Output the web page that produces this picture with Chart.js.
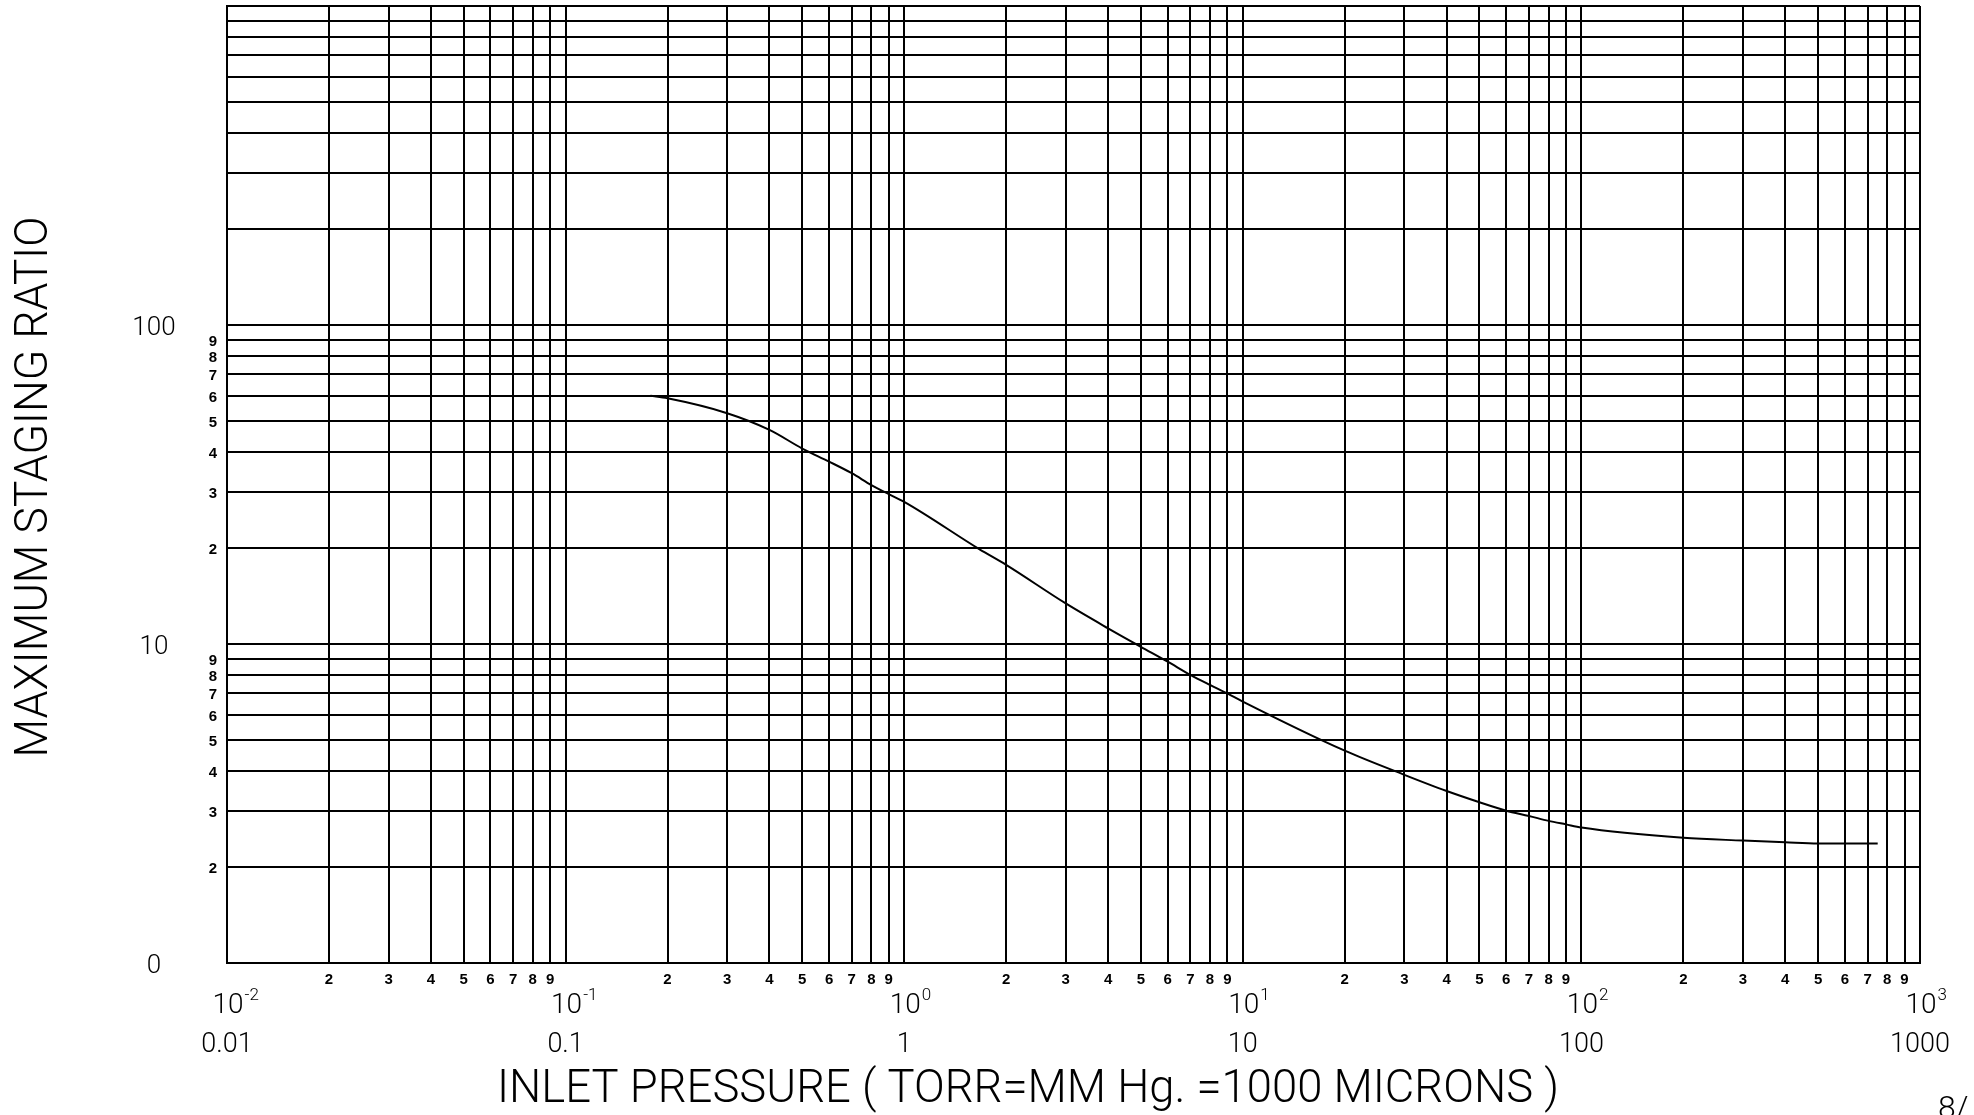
<!DOCTYPE html>
<html>
<head>
<meta charset="utf-8">
<script src="https://cdn.jsdelivr.net/npm/chart.js@4.4.0/dist/chart.umd.min.js"></script>
<style>
    html, body { margin: 0; padding: 0; background: #fff; }
    #chartBox { width: 1974px; height: 1115px; }
</style>
</head>
<body>
<div id="chartBox"><canvas id="stagingChart"></canvas></div>
<script>
// inlet pressure (torr) and the staging ratio
var pressure = [0.178, 0.2, 0.3, 0.4, 0.5, 0.6, 0.7, 0.8, 0.9, 1, 1.67, 2, 3, 4, 5, 6, 7, 8, 9, 10, 20, 30, 40, 50, 60, 70, 80, 90, 100, 200, 300, 400, 500, 700, 750];
var stagingRatio = [60, 58.9, 52.9, 46.9, 41.0, 37.3, 34.3, 31.5, 29.5, 27.9, 19.8, 17.7, 13.4, 11.2, 9.8, 8.8, 8.0, 7.44, 7.0, 6.6, 4.63, 3.89, 3.46, 3.19, 3.0, 2.89, 2.79, 2.72, 2.66, 2.47, 2.42, 2.39, 2.37, 2.37, 2.37];

// axis decades and labels
var xDecades = [0.01, 0.1, 1, 10, 100, 1000];
var xExponents = ["-2", "-1", "0", "1", "2", "3"];
var xPlainLabels = ["0.01", "0.1", "1", "10", "100", "1000"];
var yDecades = [1, 10, 100, 1000];
var yMajorLabels = ["0", "10", "100"];
var minorDigits = ["2", "3", "4", "5", "6", "7", "8", "9"];
var yLabelledDecades = 2;

var xTitle = "INLET PRESSURE ( TORR=MM Hg. =1000 MICRONS )";
var yTitle = "MAXIMUM STAGING RATIO";
var cornerNote = "8/";

var thinFont = "'Roboto', 'DejaVu Sans', sans-serif";
var digitFont = "'Liberation Sans', 'DejaVu Sans', sans-serif";

function gridValues(decades)
{
    var values = [];
    for (var i = 0; i < decades.length - 1; i++)
    {
        values.push(decades[i]);
        minorDigits.forEach(function (d) {
            values.push(decades[i] * Number(d));
        });
    }
    values.push(decades[decades.length - 1]);
    return values;
}

function putText(ctx, text, x, y, font, align, width)
{
    ctx.save();
    ctx.font = font;
    ctx.fillStyle = "#000";
    ctx.textBaseline = "alphabetic";
    ctx.textAlign = align;
    var sx = width ? width / ctx.measureText(text).width : 1;
    ctx.translate(x, y);
    ctx.scale(sx, 1);
    ctx.fillText(text, 0, 0);
    ctx.restore();
}

var labelPlugin = {
    id: "paperLabels",
    afterDraw: function (chart) {
        var ctx = chart.ctx;
        var xs = chart.scales.x;
        var ys = chart.scales.y;

        // x axis: 2..9 under every decade, then 10^n and plain value
        for (var i = 0; i < xDecades.length; i++)
        {
            var px = xs.getPixelForValue(xDecades[i]);
            if (i < xDecades.length - 1)
            {
                minorDigits.forEach(function (d) {
                    var mx = xs.getPixelForValue(xDecades[i] * Number(d));
                    putText(ctx, d, mx, 984, "bold 15px " + digitFont, "center");
                });
            }
            putText(ctx, "10", px + 1, 1013, "300 28px " + thinFont, "center");
            ctx.font = "300 28px " + thinFont;
            var baseW = ctx.measureText("10").width;
            putText(ctx, xExponents[i], px + 1 + baseW / 2 + 1, 1000, "300 17px " + thinFont, "left");
            putText(ctx, xPlainLabels[i], px, 1052, "300 27px " + thinFont, "center");
        }

        // y axis: decade values far left, 2..9 next to the frame
        for (var j = 0; j < yMajorLabels.length; j++)
        {
            var py = ys.getPixelForValue(yDecades[j]);
            putText(ctx, yMajorLabels[j], 154, py + 9.5, "300 26px " + thinFont, "center");
            if (j < yLabelledDecades)
            {
                minorDigits.forEach(function (d) {
                    var my = ys.getPixelForValue(yDecades[j] * Number(d));
                    putText(ctx, d, 213, my + 6, "bold 15px " + digitFont, "center");
                });
            }
        }

        putText(ctx, xTitle, 1028, 1102, "300 47px " + thinFont, "center", 1062);

        ctx.save();
        ctx.translate(47, 487);
        ctx.rotate(-Math.PI / 2);
        putText(ctx, yTitle, 0, 0, "300 47px " + thinFont, "center", 541);
        ctx.restore();

        putText(ctx, cornerNote, 1938, 1118, "300 32px " + thinFont, "left");
    }
};

var points = pressure.map(function (p, k) {
    return { x: p, y: stagingRatio[k] };
});

var stagingChart = new Chart(document.getElementById("stagingChart"), {
    type: "line",
    data: {
        datasets: [{
            label: "Maximum staging ratio",
            data: points,
            borderColor: "#000",
            borderWidth: 2,
            pointRadius: 0,
            fill: false,
            cubicInterpolationMode: "monotone"
        }]
    },
    options: {
        responsive: true,
        maintainAspectRatio: false,
        animation: false,
        events: [],
        layout: {
            padding: { left: 227, right: 54, top: 6, bottom: 152 }
        },
        plugins: {
            legend: { display: false },
            tooltip: { enabled: false }
        },
        scales: {
            x: {
                type: "logarithmic",
                min: xDecades[0],
                max: xDecades[xDecades.length - 1],
                afterBuildTicks: function (axis) {
                    axis.ticks = gridValues(xDecades).map(function (v) { return { value: v }; });
                },
                ticks: { display: false, autoSkip: false },
                grid: { color: "#000", lineWidth: 2, drawTicks: false },
                border: { color: "#000", width: 2 }
            },
            y: {
                type: "logarithmic",
                min: yDecades[0],
                max: yDecades[yDecades.length - 1],
                afterBuildTicks: function (axis) {
                    axis.ticks = gridValues(yDecades).map(function (v) { return { value: v }; });
                },
                ticks: { display: false, autoSkip: false },
                grid: { color: "#000", lineWidth: 2, drawTicks: false },
                border: { color: "#000", width: 2 }
            }
        }
    },
    plugins: [labelPlugin]
});
</script>
</body>
</html>
